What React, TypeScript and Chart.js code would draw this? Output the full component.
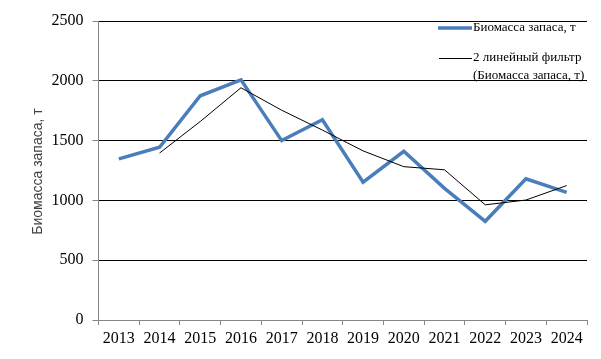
import React, { useEffect, useRef } from "react";
import { Chart, registerables } from "chart.js";

Chart.register(...registerables);

const years = ["2013", "2014", "2015", "2016", "2017", "2018", "2019", "2020", "2021", "2022", "2023", "2024"];
const biomass = [1347, 1444, 1875, 2008, 1500, 1675, 1153, 1411, 1101, 825, 1181, 1067];
const filter2 = [null, 1396, 1660, 1942, 1754, 1588, 1414, 1282, 1256, 963, 1003, 1124];
const seriesName = "Биомасса запаса, т";
const filterName1 = "2 линейный фильтр";
const filterName2 = "(Биомасса запаса, т)";
const yTitle = "Биомасса запаса, т";

const BLUE = "#4A7EBB";
const GRAY = "#868686";
const FONT = "'Liberation Serif', 'Times New Roman', serif";
const SANS = "'Liberation Sans', Arial, sans-serif";

const overlay = {
  id: "overlay",
  afterDraw(chart: any) {
    const ctx = chart.ctx;
    ctx.save();
    // y title
    ctx.fillStyle = "#404040";
    ctx.font = `14px ${SANS}`;
    ctx.textAlign = "center";
    ctx.textBaseline = "middle";
    ctx.translate(38.5, chart.chartArea.top + (chart.chartArea.bottom - chart.chartArea.top) / 2 + 1);
    ctx.rotate(-Math.PI / 2);
    ctx.fillText(yTitle, 0, 0);
    ctx.restore();

    // legend
    ctx.save();
    ctx.lineCap = "butt";
    ctx.strokeStyle = BLUE;
    ctx.lineWidth = 3.5;
    ctx.beginPath();
    ctx.moveTo(438, 28);
    ctx.lineTo(472, 28);
    ctx.stroke();
    ctx.strokeStyle = "#000";
    ctx.lineWidth = 1;
    ctx.beginPath();
    ctx.moveTo(439, 58.5);
    ctx.lineTo(472, 58.5);
    ctx.stroke();
    ctx.fillStyle = "#000";
    ctx.font = `13px ${FONT}`;
    ctx.textAlign = "left";
    ctx.textBaseline = "middle";
    ctx.fillText(seriesName, 473, 28);
    ctx.fillText(filterName1, 473, 58);
    ctx.fillText(filterName2, 473, 76);
    ctx.restore();
  },
};

export default function App() {
  const ref = useRef<HTMLCanvasElement>(null);
  useEffect(() => {
    const chart = new Chart(ref.current!, {
      type: "line",
      data: {
        labels: years,
        datasets: [
          {
            label: seriesName,
            data: biomass,
            borderColor: BLUE,
            borderWidth: 3.5,
            pointRadius: 0,
            tension: 0,
            order: 2,
          },
          {
            label: filterName1 + " " + filterName2,
            data: filter2 as any,
            borderColor: "#000",
            borderWidth: 1,
            pointRadius: 0,
            tension: 0,
            order: 1,
          },
        ],
      },
      options: {
        animation: false,
        responsive: false,
        layout: { padding: { top: 21, right: 14, left: 0, bottom: 0 } },
        plugins: { legend: { display: false }, tooltip: { enabled: false } },
        scales: {
          x: {
            offset: true,
            grid: {
              offset: true,
              drawOnChartArea: false,
              drawTicks: true,
              tickLength: 5,
              tickColor: GRAY,
            },
            border: { color: GRAY, width: 1 },
            ticks: {
              color: "#000",
              font: { family: FONT, size: 16 },
              padding: 4,
              maxRotation: 0,
              autoSkip: false,
            },
            afterFit: (s: any) => {
              s.height = 39;
            },
          },
          y: {
            min: 0,
            max: 2500,
            ticks: {
              stepSize: 500,
              color: "#000",
              font: { family: FONT, size: 16 },
              padding: 9,
              callback: (v: any) => String(v),
            },
            grid: {
              color: (c: any) => (c.tick && c.tick.value === 0 ? GRAY : "#000"),
              tickColor: GRAY,
              tickLength: 6,
              lineWidth: 1,
            },
            border: { color: GRAY, width: 1 },
            afterFit: (s: any) => {
              s.width = 98.5;
            },
          },
        },
      },
      plugins: [overlay],
    });
    return () => chart.destroy();
  }, []);
  return (
    <div style={{ position: "fixed", left: 0, top: 0, width: 601, height: 359, background: "#fff" }}>
      <canvas ref={ref} width={601} height={359} style={{ width: 601, height: 359 }} />
    </div>
  );
}
